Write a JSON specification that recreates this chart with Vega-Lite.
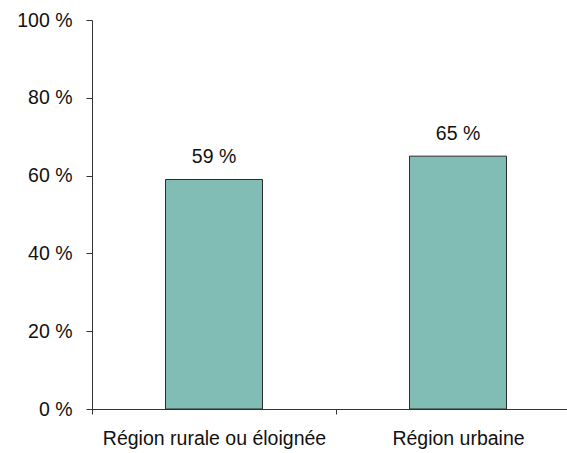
{
  "$schema": "https://vega.github.io/schema/vega-lite/v6.json",
  "autosize": "none",
  "width": 475,
  "height": 389,
  "padding": {"left": 92, "top": 20, "right": 0, "bottom": 44},
  "background": "white",
  "config": {
    "view": {"stroke": null},
    "font": "Liberation Sans",
    "axis": {"domainColor": "#333333", "tickColor": "#333333", "labelColor": "#111111", "labelFont": "Liberation Sans", "labelFontSize": 19.5, "grid": false, "title": null, "labelLimit": 0}
  },
  "data": {"values": [
    {"region": "Région rurale ou éloignée", "pct": 59, "label": "59 %"},
    {"region": "Région urbaine", "pct": 65, "label": "65 %"}
  ]},
  "encoding": {
    "x": {"field": "region", "type": "nominal", "sort": null,
      "scale": {"range": [0, 488], "paddingInner": 0, "paddingOuter": 0},
      "axis": {"labelAngle": 0, "tickBand": "extent", "tickSize": 5, "labelPadding": 15, "domainWidth": 1}},
    "y": {"field": "pct", "type": "quantitative",
      "scale": {"domain": [0, 100], "nice": false},
      "axis": {"values": [0, 20, 40, 60, 80, 100], "tickSize": 6, "labelPadding": 14, "labelExpr": "datum.value + ' %'"}}
  },
  "layer": [
    {"mark": {"type": "bar", "width": {"band": 0.3975}, "color": "#82BDB5", "stroke": "#2b2b2b", "strokeWidth": 1}},
    {"mark": {"type": "text", "baseline": "bottom", "dy": -12, "fontSize": 19.5, "color": "#111111", "font": "Liberation Sans"},
     "encoding": {"text": {"field": "label", "type": "nominal"}}}
  ]
}
